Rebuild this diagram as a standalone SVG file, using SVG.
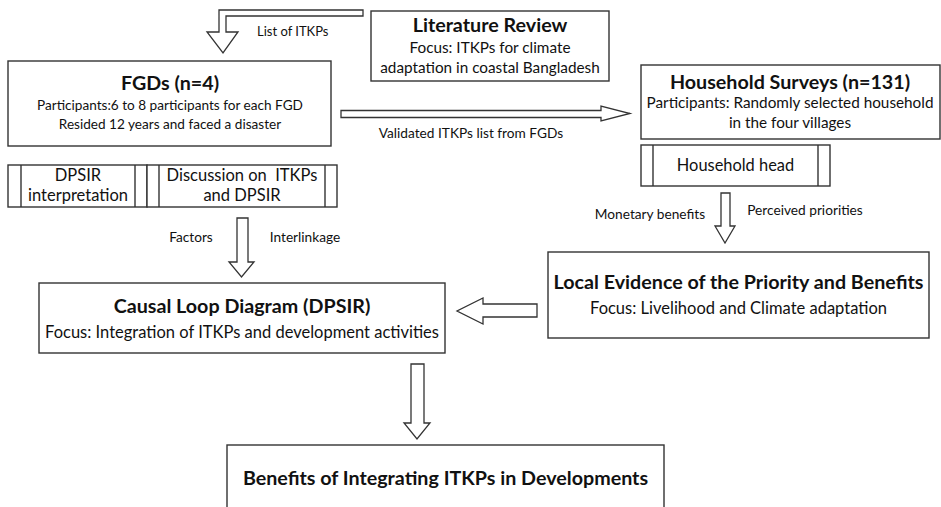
<svg xmlns="http://www.w3.org/2000/svg" width="941" height="507" viewBox="0 0 941 507">
<style>
  .box{fill:#fff;stroke:#333;stroke-width:1.4}
  .ln{stroke:#333;stroke-width:1.4;fill:none}
  .arr{fill:#fff;stroke:#333;stroke-width:1.3;stroke-linejoin:miter}
  text{font-family:Lato,"Open Sans","Liberation Sans",sans-serif;fill:#111;text-anchor:middle}
  .t{font-weight:bold;font-size:19.7px}
  .s{font-size:16.5px}
  .s2{font-size:15.3px}
  .f{font-size:13.6px}
  .l{font-size:13.7px}
</style>
<rect width="941" height="507" fill="#fff"/>
<g id="connectors">
  <polygon class="arr" points="363,10 219,10 219,32 207,32 223,53 238,32 226,32 226,16 363,16"/>
  <polygon class="arr" points="341,110.5 601,110.5 601,106 630,113.5 601,121 601,117.5 341,117.5"/>
  <polygon class="arr" points="237,218 248,218 248,262 254,262 241.5,277 229,262 237,262"/>
  <polygon class="arr" points="721,193 730,193 730,226 735,226 725,243 715,226 721,226"/>
  <polygon class="arr" points="537,304 483,304 483,298 457,311 483,324 483,317 537,317"/>
  <polygon class="arr" points="411,364 424,364 424,423 430,423 417,439 404,423 411,423"/>
  <text x="257" y="36" style="text-anchor:start;font-size:13px">List of ITKPs</text>
  <text class="l" x="471" y="138">Validated ITKPs list from FGDs</text>
  <text class="l" x="191" y="242">Factors</text>
  <text class="l" x="305" y="242">Interlinkage</text>
  <text class="l" x="650" y="219">Monetary benefits</text>
  <text class="l" x="805" y="215">Perceived priorities</text>
</g>
<g id="literature-review">
  <rect class="box" x="371" y="11" width="238" height="70"/>
  <text class="t" x="490" y="32">Literature Review</text>
  <text class="s2" x="490" y="53">Focus: ITKPs for climate</text>
  <text class="s2" x="490" y="73">adaptation in coastal Bangladesh</text>
</g>
<g id="fgds">
  <rect class="box" x="8" y="61" width="323" height="85"/>
  <text class="t" x="170" y="90">FGDs (n=4)</text>
  <text class="f" x="170" y="110">Participants:6 to 8 participants for each FGD</text>
  <text class="f" x="170" y="129">Resided 12 years and faced a disaster</text>
</g>
<g id="dpsir-interpretation">
  <rect class="box" x="8" y="165" width="139" height="42"/>
  <line class="ln" x1="21" y1="165" x2="21" y2="207"/>
  <line class="ln" x1="135" y1="165" x2="135" y2="207"/>
  <text class="s" x="78" y="181">DPSIR</text>
  <text class="s" x="78" y="201">interpretation</text>
</g>
<g id="discussion">
  <rect class="box" x="147" y="165" width="190" height="42"/>
  <line class="ln" x1="159" y1="165" x2="159" y2="207"/>
  <line class="ln" x1="325" y1="165" x2="325" y2="207"/>
  <text class="s" x="242" y="181" style="white-space:pre">Discussion on  ITKPs</text>
  <text class="s" x="242" y="201">and DPSIR</text>
</g>
<g id="household-surveys">
  <rect class="box" x="641" y="65" width="299" height="74"/>
  <text class="t" x="790" y="89">Household Surveys (n=131)</text>
  <text class="s2" x="790" y="108">Participants: Randomly selected household</text>
  <text class="s2" x="790" y="128">in the four villages</text>
</g>
<g id="household-head">
  <rect class="box" x="641" y="145" width="189" height="41"/>
  <line class="ln" x1="653" y1="145" x2="653" y2="186"/>
  <line class="ln" x1="818" y1="145" x2="818" y2="186"/>
  <text x="735.5" y="171" style="font-size:16.4px">Household head</text>
</g>
<g id="local-evidence">
  <rect class="box" x="548" y="252" width="381" height="86"/>
  <text class="t" x="738.5" y="289">Local Evidence of the Priority and Benefits</text>
  <text class="s" x="738.5" y="314">Focus: Livelihood and Climate adaptation</text>
</g>
<g id="causal-loop">
  <rect class="box" x="39" y="283" width="406" height="70"/>
  <text class="t" x="242" y="313">Causal Loop Diagram (DPSIR)</text>
  <text class="s" x="242" y="338">Focus: Integration of ITKPs and development activities</text>
</g>
<g id="benefits">
  <rect class="box" x="227" y="445" width="437" height="70"/>
  <text class="t" x="445.5" y="485">Benefits of Integrating ITKPs in Developments</text>
</g>
</svg>
